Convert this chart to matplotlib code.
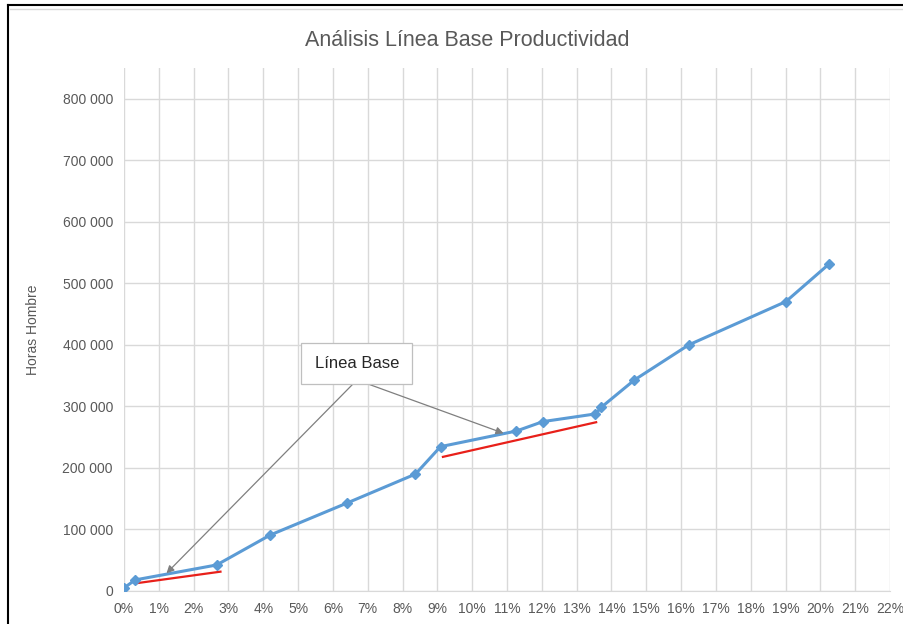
import matplotlib.pyplot as plt
from matplotlib.ticker import MultipleLocator, FuncFormatter
from matplotlib.lines import Line2D

plt.rcParams['font.family'] = ['Liberation Sans', 'DejaVu Sans']

# avance (%) vs horas hombre acumuladas
avance = [0.0, 0.32, 2.66, 4.2, 6.39, 8.37, 9.09, 11.27, 12.03, 13.54, 13.71,
          14.66, 16.22, 19.01, 20.24]
horas = [5000, 18000, 42300, 91000, 142600, 190000, 234600, 260000, 275300,
         287800, 298700, 343000, 400000, 470400, 531000]

# tramos de linea base (rojo)
base1_x = [0.34, 2.77]
base1_y = [12500, 31400]
base2_x = [9.16, 13.56]
base2_y = [218000, 274300]

# etiqueta y puntos que señala
etiqueta = "Línea Base"
etiqueta_pos = (6.69, 343000)
flechas = [(1.22, 28800), (10.9, 256400)]

gris = '#595959'
azul = '#5B9BD5'

fig = plt.figure(figsize=(9.04, 6.24), dpi=100)
ax = fig.add_axes([0.1372, 0.0529, 0.8473, 0.8381])

ax.plot(avance, horas, color=azul, lw=2.2, marker='D', ms=5,
        mec=azul, mfc=azul, zorder=4)
ax.plot(base1_x, base1_y, color='#E8201A', lw=1.6, zorder=3)
ax.plot(base2_x, base2_y, color='#E8201A', lw=1.6, zorder=3)

for xy in flechas:
    ax.annotate("", xy=xy, xytext=etiqueta_pos,
                arrowprops=dict(arrowstyle='-|>', color='#7F7F7F', lw=0.9,
                                mutation_scale=11, shrinkA=0, shrinkB=0),
                zorder=5)
ax.text(etiqueta_pos[0], etiqueta_pos[1] + 27000, etiqueta, ha='center',
        va='center', fontsize=12, color='#262626', zorder=6,
        bbox=dict(boxstyle='square,pad=0.8', facecolor='white',
                  edgecolor='#BFBFBF', lw=0.9))

ax.set_xlim(0, 22)
ax.set_ylim(0, 850000)
ax.xaxis.set_major_locator(MultipleLocator(1))
ax.yaxis.set_major_locator(MultipleLocator(100000))
ax.xaxis.set_major_formatter(FuncFormatter(lambda v, p: f"{int(round(v))}%"))
ax.yaxis.set_major_formatter(
    FuncFormatter(lambda v, p: f"{int(v):,}".replace(",", " ") if v <= 800000 else ""))
ax.grid(True, color='#D9D9D9', lw=1)
ax.set_axisbelow(True)
for s in ['top', 'right', 'left']:
    ax.spines[s].set_visible(False)
ax.spines['bottom'].set_color('#D9D9D9')
ax.tick_params(length=0, labelsize=10, colors=gris, pad=8)
ax.set_ylabel("Horas Hombre", fontsize=10, color=gris, labelpad=16)

fig.text(467 / 904, 1 - 40 / 624, "Análisis Línea Base Productividad",
         ha='center', va='center', fontsize=15.5, color=gris)

# marco exterior
fig.add_artist(Line2D([8 / 904, 8 / 904], [0, 1 - 5 / 624], color='black',
                      lw=1.5, transform=fig.transFigure))
fig.add_artist(Line2D([8 / 904, 1], [1 - 5 / 624, 1 - 5 / 624], color='black',
                      lw=1.5, transform=fig.transFigure))
fig.add_artist(Line2D([10 / 904, 1], [1 - 9 / 624, 1 - 9 / 624], color='#D9D9D9',
                      lw=1, transform=fig.transFigure))

fig.savefig("out.png", dpi=100)
